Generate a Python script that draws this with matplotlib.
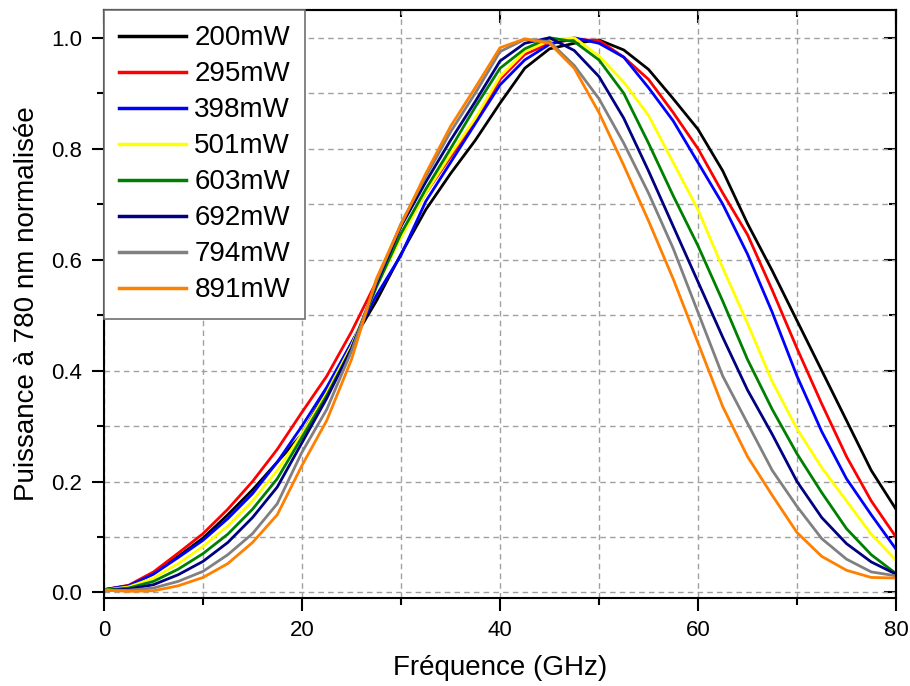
import matplotlib
matplotlib.use("Agg")
import matplotlib.pyplot as plt
from matplotlib.ticker import MultipleLocator

plt.rcParams['font.family'] = ['Liberation Sans', 'DejaVu Sans']

# frequency grid (GHz)
freq = [0, 2.5, 5, 7.5, 10, 12.5, 15, 17.5, 20, 22.5, 25, 27.5, 30, 32.5, 35, 37.5,
        40, 42.5, 45, 47.5, 50, 52.5, 55, 57.5, 60, 62.5, 65, 67.5, 70, 72.5, 75, 77.5, 80]

p200 = [0.005, 0.012, 0.034, 0.065, 0.098, 0.14, 0.185, 0.235, 0.285, 0.365, 0.45, 0.525,
        0.61, 0.69, 0.755, 0.815, 0.882, 0.945, 0.98, 0.99, 0.996, 0.978, 0.943, 0.89,
        0.835, 0.76, 0.665, 0.58, 0.49, 0.40, 0.31, 0.22, 0.15]
p295 = [0.005, 0.013, 0.037, 0.071, 0.106, 0.15, 0.2, 0.258, 0.325, 0.39, 0.47, 0.56,
        0.645, 0.72, 0.785, 0.848, 0.925, 0.97, 0.99, 0.997, 0.995, 0.965, 0.925, 0.865,
        0.80, 0.72, 0.645, 0.545, 0.44, 0.34, 0.245, 0.165, 0.10]
p398 = [0.005, 0.012, 0.033, 0.063, 0.094, 0.133, 0.178, 0.235, 0.30, 0.37, 0.45, 0.535,
        0.608, 0.705, 0.775, 0.845, 0.915, 0.96, 0.988, 1.0, 0.99, 0.965, 0.91, 0.85,
        0.775, 0.70, 0.61, 0.505, 0.39, 0.29, 0.205, 0.14, 0.078]
p501 = [0.004, 0.01, 0.026, 0.052, 0.083, 0.12, 0.165, 0.22, 0.286, 0.36, 0.445, 0.55,
        0.64, 0.72, 0.79, 0.855, 0.93, 0.975, 0.995, 1.0, 0.967, 0.92, 0.86, 0.775,
        0.69, 0.585, 0.485, 0.38, 0.295, 0.225, 0.165, 0.105, 0.058]
p603 = [0.004, 0.008, 0.02, 0.042, 0.07, 0.105, 0.15, 0.205, 0.28, 0.355, 0.44, 0.55,
        0.647, 0.727, 0.80, 0.875, 0.945, 0.98, 1.0, 0.993, 0.96, 0.9, 0.81, 0.715,
        0.625, 0.525, 0.42, 0.33, 0.25, 0.18, 0.115, 0.068, 0.034]
p692 = [0.003, 0.006, 0.014, 0.032, 0.056, 0.09, 0.135, 0.19, 0.27, 0.35, 0.44, 0.555,
        0.66, 0.74, 0.815, 0.885, 0.958, 0.99, 1.0, 0.977, 0.93, 0.855, 0.76, 0.66,
        0.56, 0.46, 0.365, 0.285, 0.2, 0.135, 0.088, 0.055, 0.033]
p794 = [0.003, 0.004, 0.008, 0.02, 0.038, 0.068, 0.106, 0.16, 0.253, 0.33, 0.435, 0.56,
        0.665, 0.75, 0.83, 0.9, 0.975, 0.997, 0.993, 0.95, 0.89, 0.81, 0.72, 0.62,
        0.505, 0.39, 0.305, 0.22, 0.155, 0.097, 0.06, 0.037, 0.03]
p891 = [0.004, 0.002, 0.003, 0.012, 0.027, 0.052, 0.09, 0.14, 0.229, 0.31, 0.42, 0.565,
        0.663, 0.755, 0.84, 0.91, 0.982, 0.998, 0.99, 0.945, 0.865, 0.77, 0.67, 0.565,
        0.45, 0.335, 0.245, 0.175, 0.108, 0.065, 0.04, 0.027, 0.026]

series = [p200, p295, p398, p501, p603, p692, p794, p891]
labels = ["200mW", "295mW", "398mW", "501mW", "603mW", "692mW", "794mW", "891mW"]
colors = ["#000000", "#ff0000", "#0000ff", "#ffff00", "#008000", "#000080", "#808080", "#ff8000"]

fig = plt.figure(figsize=(9.1, 6.86), dpi=100)
ax = fig.add_axes([0.1143, 0.1283, 0.8703, 0.8571])

for y, lab, c in zip(series, labels, colors):
    ax.plot(freq, y, color=c, lw=2, label=lab)

ax.set_xlim(0, 80)
ax.set_ylim(-0.01, 1.05)
ax.xaxis.set_major_locator(MultipleLocator(20))
ax.xaxis.set_minor_locator(MultipleLocator(10))
ax.yaxis.set_major_locator(MultipleLocator(0.2))
ax.yaxis.set_minor_locator(MultipleLocator(0.1))
ax.yaxis.set_major_formatter(plt.FormatStrFormatter('%.1f'))

ax.grid(which='both', color='#a0a0a0', lw=1, ls=(0, (4, 3)))
ax.set_axisbelow(True)

for s in ax.spines.values():
    s.set_linewidth(1.5)

ax.tick_params(which='major', direction='out', length=9, width=1.5, labelsize=16, pad=7)
ax.tick_params(which='minor', direction='out', length=5, width=1.5)

# inward ticks on top and right
top = ax.secondary_xaxis('top')
top.xaxis.set_major_locator(MultipleLocator(20))
top.xaxis.set_minor_locator(MultipleLocator(10))
top.tick_params(which='major', direction='in', length=9, width=1.5, labeltop=False)
top.tick_params(which='minor', direction='in', length=5, width=1.5)
right = ax.secondary_yaxis('right')
right.yaxis.set_major_locator(MultipleLocator(0.2))
right.yaxis.set_minor_locator(MultipleLocator(0.1))
right.tick_params(which='major', direction='in', length=9, width=1.5, labelright=False)
right.tick_params(which='minor', direction='in', length=5, width=1.5)
for sec in (top, right):
    for s in sec.spines.values():
        s.set_linewidth(1.5)

ax.set_xlabel("Fréquence (GHz)", fontsize=20, labelpad=10)
ax.set_ylabel("Puissance à 780 nm normalisée", fontsize=20, labelpad=8)

leg = ax.legend(loc='upper left', bbox_to_anchor=(0, 1), borderaxespad=0, fontsize=20,
                handlelength=2.4, handletextpad=0.3, labelspacing=0.36, borderpad=0.55,
                fancybox=False, framealpha=1)
leg.get_frame().set_edgecolor('#707070')
leg.get_frame().set_linewidth(1.2)
for h in leg.get_lines():
    h.set_linewidth(2.5)

fig.savefig("out.png", dpi=100)
